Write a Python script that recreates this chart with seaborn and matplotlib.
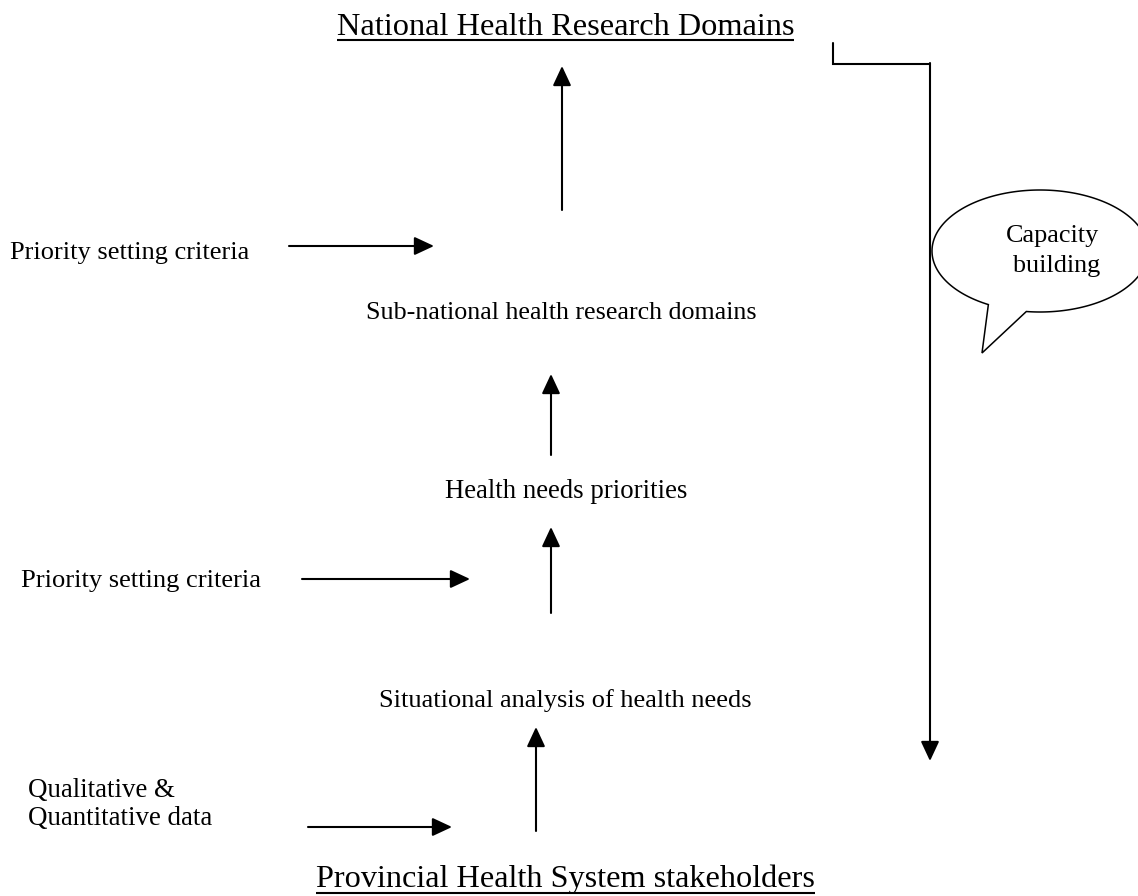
import matplotlib
matplotlib.use("Agg")
import matplotlib.pyplot as plt
import seaborn as sns
import numpy as np
from matplotlib.patches import Polygon

# ---------------- content ----------------
top_label = "National Health Research Domains"
bottom_label = "Provincial Health System stakeholders"
stage_labels = ["Sub-national health research domains",
                "Health needs priorities",
                "Situational analysis of health needs"]
input_labels = ["Priority setting criteria",
                "Priority setting criteria",
                ["Qualitative &", "Quantitative data"]]
bubble_lines = ["Capacity", "building"]

# ---------------- layout (pixel space) ----------------
stage_pos = [(366, 319, 391), (445, 498, 243), (379, 707, 374)]   # left, baseline, width
input_pos = [(10, 259, 239), (21, 587, 240), (28, 825, 186)]
up_arrows = [((562, 210), (562, 66)), ((551, 455), (551, 374)),
             ((551, 613), (551, 527)), ((536, 831), (536, 727))]
right_arrows = [((289, 246), (434, 246)), ((302, 579), (470, 579)),
                ((308, 827), (452, 827))]

sns.set_theme(style="white")
plt.rcParams["font.family"] = ["Liberation Serif", "DejaVu Serif"]

W, H = 1138, 896
fig = plt.figure(figsize=(W / 100, H / 100), dpi=100)
fig.patch.set_facecolor("white")
ax = fig.add_axes([0, 0, 1, 1])
ax.set_xlim(0, W)
ax.set_ylim(H, 0)
ax.axis("off")
renderer = fig.canvas.get_renderer()


def fit_text(s, x, y, width, ha="left", va="baseline", size=None):
    t = ax.text(x, y, s, fontsize=10, ha=ha, va=va, color="black")
    if size is None:
        w = t.get_window_extent(renderer).width
        size = 10 * width / w
    t.set_fontsize(size)
    return t, size


def underline(t, y):
    bb = t.get_window_extent(renderer)
    ax.plot([bb.x0, bb.x1], [y, y], color="black", lw=1.5, solid_capstyle="butt")


def arrow(tail, tip):
    ax.annotate("", xy=tip, xytext=tail,
                arrowprops=dict(arrowstyle="-|>,head_length=0.6,head_width=0.28",
                                mutation_scale=20, lw=1.5, color="black",
                                shrinkA=0, shrinkB=0))


# titles
t, _ = fit_text(top_label, 337, 35, 460)
underline(t, 40)
t, _ = fit_text(bottom_label, 316, 887, 501)
underline(t, 893)

# stage labels
for lab, (x, y, w) in zip(stage_labels, stage_pos):
    fit_text(lab, x, y, w)

# input labels
for lab, (x, y, w) in zip(input_labels, input_pos):
    if isinstance(lab, list):
        _, sz = fit_text(lab[1], x, y, w)
        fit_text(lab[0], x, y - 28, None, size=sz)
    else:
        fit_text(lab, x, y, w)

# arrows
for tail, tip in up_arrows + right_arrows:
    arrow(tail, tip)

# feedback connector
ax.plot([833, 833, 930], [43, 64, 64], color="black", lw=1.5,
        solid_joinstyle="miter", zorder=5)
ax.annotate("", xy=(930, 761), xytext=(930, 63),
            arrowprops=dict(arrowstyle="-|>,head_length=0.6,head_width=0.28",
                            mutation_scale=20, lw=1.5, color="black",
                            shrinkA=0, shrinkB=0), zorder=5)

# speech bubble
cx, cy, a, b = 1040, 251, 108, 61
tailL, tip, tailR = (987, 306), (982, 353), (1026, 313)
th1 = np.arctan2((tailL[1] - cy) / b, (tailL[0] - cx) / a)
th2 = np.arctan2((tailR[1] - cy) / b, (tailR[0] - cx) / a)
th = np.linspace(th1, th2 + 2 * np.pi, 300)
pts = np.column_stack([cx + a * np.cos(th), cy + b * np.sin(th)])
pts = np.vstack([pts, [tip]])
ax.add_patch(Polygon(pts, closed=True, facecolor="white", edgecolor="black",
                     lw=1.1, zorder=3, joinstyle="miter"))
t1, sz = fit_text(bubble_lines[0], 1053, 242, 93, ha="center")
t1.set_zorder(6)
t2, _ = fit_text(bubble_lines[1], 1057, 272, None, ha="center", size=sz)
t2.set_zorder(6)

fig.savefig("out.png", dpi=100, facecolor="white")
